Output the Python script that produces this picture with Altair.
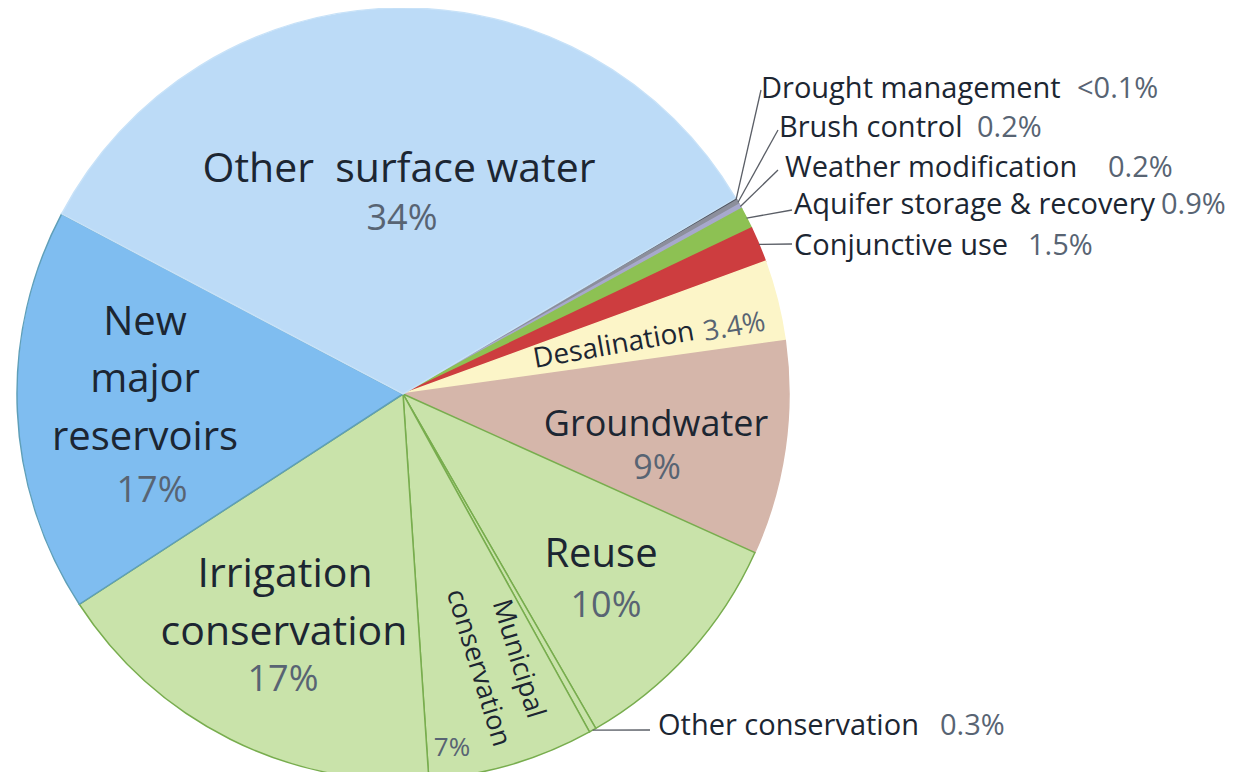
import math
import altair as alt
import pandas as pd

# ---- data ----
categories = ["Drought management", "Brush control", "Weather modification",
              "Aquifer storage & recovery", "Conjunctive use", "Desalination",
              "Groundwater", "Reuse", "Other conservation", "Municipal conservation",
              "Irrigation conservation", "New major reservoirs", "Other surface water"]
shares = [0.1, 0.2, 0.2, 0.9, 1.5, 3.4, 9, 10, 0.3, 7, 17, 17, 34]
share_labels = ["<0.1%", "0.2%", "0.2%", "0.9%", "1.5%", "3.4%", "9%", "10%",
                "0.3%", "7%", "17%", "17%", "34%"]

# ---- styles ----
fills = ["#4f5560", "#8c8f9c", "#a7a9cc", "#8dc153", "#cd3d3f", "#fcf5c8",
         "#d5b6aa", "#c9e3aa", "#c9e3aa", "#c9e3aa", "#c9e3aa", "#7fbdf0", "#bcdbf7"]
strokes = ["#4f5560", "#8c8f9c", "#a7a9cc", "#8dc153", "#cd3d3f", "#fcf5c8",
           "#d5b6aa", "#78ad4e", "#78ad4e", "#78ad4e", "#78ad4e", "#5f9fb8", "#c8e2f8"]
DARK = "#1c2632"
PCT = "#586473"
NB = "\u00a0"

W, H = 1221, 764
CX, CY, R = 395, 386, 386
START_DEG = 59.5
start = math.radians(START_DEG)

pie_df = pd.DataFrame({"cat": categories, "value": shares,
                       "idx": list(range(len(categories)))})

pie = alt.Chart(pie_df).mark_arc(radius=R, strokeWidth=1.5).encode(
    theta=alt.Theta("value:Q", stack=True,
                    scale=alt.Scale(range=[start, start + 2 * math.pi])),
    order=alt.Order("idx:Q"),
    color=alt.Color("cat:N", scale=alt.Scale(domain=categories, range=fills), legend=None),
    stroke=alt.Stroke("cat:N", scale=alt.Scale(domain=categories, range=strokes), legend=None),
    x=alt.value(CX), y=alt.value(CY),
)

# ---- leader lines (start from the slice middle on the rim) ----
total = sum(shares)
def rim_point(i):
    cum = sum(shares[:i]) + shares[i] / 2
    a = start + 2 * math.pi * cum / total
    return CX + R * math.sin(a), CY - R * math.cos(a)

leader_idx = [0, 1, 2, 3, 4, 8]
leader_end = [(753, 82), (770, 122), (770, 162), (784, 202), (784, 236), (642, 722)]
lx, ly, lx2, ly2 = [], [], [], []
for i, (ex, ey) in zip(leader_idx, leader_end):
    sx, sy = rim_point(i)
    lx.append(sx); ly.append(sy); lx2.append(ex); ly2.append(ey)
lead_df = pd.DataFrame({"x": lx, "y": ly, "x2": lx2, "y2": ly2})
leaders = alt.Chart(lead_df).mark_rule(color="#5a5e66", strokeWidth=1.3).encode(
    x=alt.X("x:Q", scale=None, axis=None), y=alt.Y("y:Q", scale=None, axis=None),
    x2="x2:Q", y2="y2:Q")

# ---- centred labels inside slices (baseline alphabetic) ----
c_text = ["Other" + NB + NB + "surface water", share_labels[12],
          "New", "major", "reservoirs", share_labels[11],
          "Irrigation", "conservation", share_labels[10],
          "Groundwater", share_labels[6],
          "Reuse", share_labels[7],
          share_labels[9]]
c_x = [391, 394, 137, 137, 137, 144, 277, 276, 275, 648, 649, 593, 598, 444]
c_y = [174, 222, 327, 384, 442, 494, 579, 637, 683, 428, 471, 559, 609, 748]
c_size = [41, 36, 40, 40, 40, 36, 41, 41, 36, 36, 34, 40, 36, 26]
c_col = [DARK, PCT, DARK, DARK, DARK, PCT, DARK, DARK, PCT, DARK, PCT, DARK, PCT, PCT]
c_df = pd.DataFrame({"t": c_text, "x": c_x, "y": c_y, "s": c_size, "c": c_col})
center_labels = alt.Chart(c_df).mark_text(align="center", baseline="alphabetic",
                                          font="Open Sans").encode(
    x=alt.X("x:Q", scale=None, axis=None), y=alt.Y("y:Q", scale=None, axis=None),
    text="t:N", size=alt.Size("s:Q", scale=None, legend=None),
    color=alt.Color("c:N", scale=None, legend=None))

# ---- left aligned side labels ----
l_text = ["Drought management", share_labels[0],
          "Brush control", share_labels[1],
          "Weather modification", share_labels[2],
          "Aquifer storage & recovery", share_labels[3],
          "Conjunctive use", share_labels[4],
          "Other conservation", share_labels[8]]
l_x = [753, 1069, 771, 969, 777, 1100, 786, 1153, 786, 1020, 650, 932]
l_y = [90, 90, 129, 129, 169, 169, 206, 206, 247, 247, 727, 727]
l_col = [DARK, PCT] * 6
l_df = pd.DataFrame({"t": l_text, "x": l_x, "y": l_y, "c": l_col})
side_labels = alt.Chart(l_df).mark_text(align="left", baseline="alphabetic",
                                        font="Open Sans", fontSize=29).encode(
    x=alt.X("x:Q", scale=None, axis=None), y=alt.Y("y:Q", scale=None, axis=None),
    text="t:N", color=alt.Color("c:N", scale=None, legend=None))

# ---- rotated labels ----
r_text = ["Desalination", share_labels[5]]
r_x = [527, 697]
r_y = [360, 333]
r_col = [DARK, PCT]
r_df = pd.DataFrame({"t": r_text, "x": r_x, "y": r_y, "c": r_col})
desal = alt.Chart(r_df).mark_text(align="left", baseline="alphabetic", font="Open Sans",
                                  fontSize=28, angle=350).encode(
    x=alt.X("x:Q", scale=None, axis=None), y=alt.Y("y:Q", scale=None, axis=None),
    text="t:N", color=alt.Color("c:N", scale=None, legend=None))

m_text = ["Municipal", "conservation"]
m_x = [510, 470]
m_y = [651, 660]
m_df = pd.DataFrame({"t": m_text, "x": m_x, "y": m_y})
muni = alt.Chart(m_df).mark_text(align="center", baseline="middle", font="Open Sans",
                                 fontSize=27, angle=73, color=DARK).encode(
    x=alt.X("x:Q", scale=None, axis=None), y=alt.Y("y:Q", scale=None, axis=None),
    text="t:N")

chart = alt.layer(pie, leaders, center_labels, side_labels, desal, muni).properties(
    width=W, height=H, autosize=alt.AutoSizeParams(type="none"), padding=0,
    background="white",
).configure_view(strokeWidth=0, stroke="transparent")

chart.save("out.html", embed_options={"renderer": "svg", "actions": False})
